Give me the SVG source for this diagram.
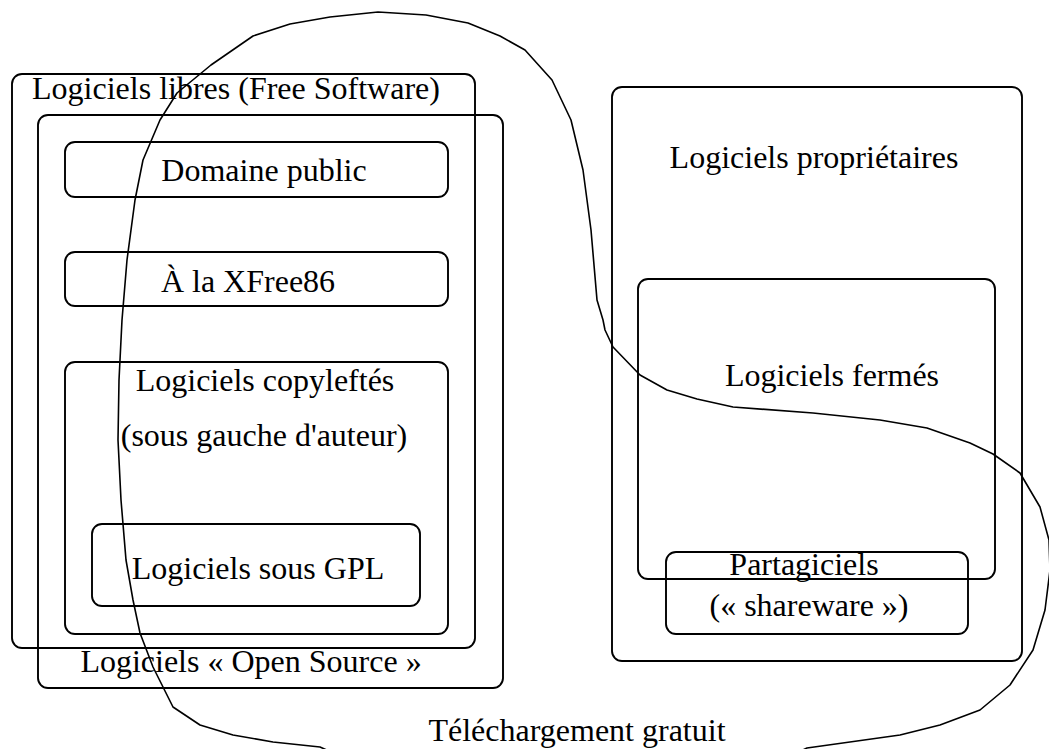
<svg xmlns="http://www.w3.org/2000/svg" width="1049" height="749" viewBox="0 0 1049 749">
<style>
.b{fill:none;stroke:#000;stroke-width:1.9}
.t{font-family:"Liberation Serif",serif;font-size:32px;fill:#000;text-anchor:middle}
.c{fill:none;stroke:#000;stroke-width:1.6;stroke-linejoin:round}
</style>
<rect width="1049" height="749" fill="#fff"/>
<g id="libres"><rect class="b" x="12" y="74" width="463" height="574" rx="10"/><text class="t" x="236" y="99">Logiciels libres (Free Software)</text></g>
<g id="opensource"><rect class="b" x="38" y="115" width="465" height="573" rx="10"/><text class="t" x="251" y="672">Logiciels « Open Source »</text></g>
<g id="domaine"><rect class="b" x="65" y="142" width="383" height="55" rx="10"/><text class="t" x="264" y="181">Domaine public</text></g>
<g id="xfree"><rect class="b" x="65" y="252" width="383" height="54" rx="10"/><text class="t" x="248" y="292">À la XFree86</text></g>
<g id="copyleft"><rect class="b" x="65" y="362" width="383" height="272" rx="10"/><text class="t" x="265" y="391">Logiciels copyleftés</text><text class="t" x="264" y="446">(sous gauche d'auteur)</text></g>
<g id="gpl"><rect class="b" x="92" y="524" width="328" height="82" rx="10"/><text class="t" x="258" y="579">Logiciels sous GPL</text></g>
<g id="proprio"><rect class="b" x="612" y="87" width="410" height="574" rx="10"/><text class="t" x="814" y="168">Logiciels propriétaires</text></g>
<g id="fermes"><rect class="b" x="638" y="279" width="357" height="300" rx="10"/><text class="t" x="832" y="386">Logiciels fermés</text></g>
<g id="partagiciels"><rect class="b" x="666" y="552" width="302" height="82" rx="10"/><text class="t" x="804" y="575">Partagiciels</text><text class="t" x="809" y="616">(« shareware »)</text></g>
<g id="telechargement"><text class="t" x="577" y="741">Téléchargement gratuit</text></g>
<g id="connectors">
<path class="c" d="M320 747 L273 742 L233 735 L200 725 L173 707 L153 667 L140 633 L133 600 L126 560 L121 500 L118 440 L119 380 L122 320 L127 260 L135 200 L143 160 L160 120 L177 93 L211 65 L253 36 L290 24 L330 17 L378 12 L426 15 L468 23 L500 36 L525 50 L552 80 L571 120 L583 170 L591 230 L597 300 L603 320 L605 330 L613 347 L640 375 L667 390 L697 399 L733 407 L813 413 L880 420 L927 428 L970 443 L993 454 L1020 473 L1040 507 L1049 540 L1050 570 L1045 610 L1033 650 L1010 685 L980 710 L940 725 L900 735 L807 748 L790 756 L340 756 Z"/>
</g>
</svg>
